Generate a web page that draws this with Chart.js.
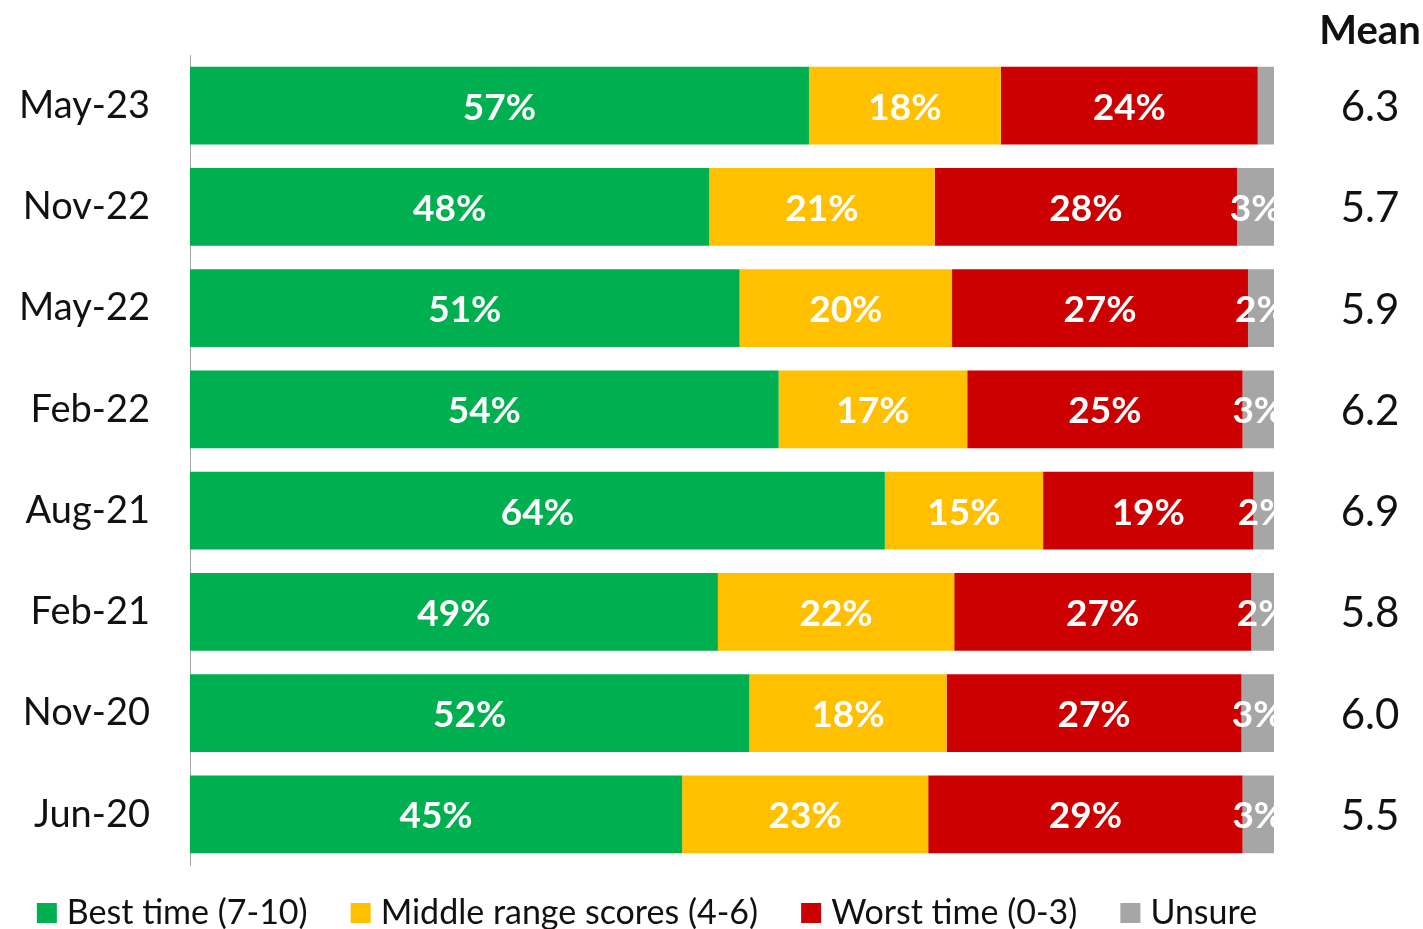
<!DOCTYPE html>
<html>
<head>
<meta charset="utf-8">
<script src="https://cdn.jsdelivr.net/npm/chart.js@4"></script>
<style>
  body { margin: 0; background: #fff; }
  canvas { display: block; }
</style>
</head>
<body>
<canvas id="scoreChart" width="1423" height="929"></canvas>
<script>
// survey waves, newest first
const categories = ['May-23', 'Nov-22', 'May-22', 'Feb-22', 'Aug-21', 'Feb-21', 'Nov-20', 'Jun-20'];

// shares in percent
const bestTime = [57.1, 47.9, 50.7, 54.3, 64.1, 48.7, 51.6, 45.4];
const middleRange = [17.7, 20.8, 19.6, 17.4, 14.6, 21.8, 18.2, 22.7];
const worstTime = [23.7, 27.9, 27.3, 25.4, 19.4, 27.4, 27.2, 29.0];
const unsure = [1.5, 3.4, 2.4, 2.9, 1.9, 2.1, 3.0, 2.9];

const meanScores = ['6.3', '5.7', '5.9', '6.2', '6.9', '5.8', '6.0', '5.5'];
const seriesNames = ['Best time (7-10)', 'Middle range scores (4-6)', 'Worst time (0-3)', 'Unsure'];
const seriesColors = ['#00B050', '#FFC000', '#CC0000', '#A6A6A6'];

const FONT = 'Lato, "Open Sans", sans-serif';
const TEXT_COLOR = '#111111';

// white % labels inside the segments, clipped to the plot area
const barLabels = {
  id: 'barLabels',
  afterDatasetsDraw(chart) {
    const ctx = chart.ctx;
    const area = chart.chartArea;
    ctx.save();
    ctx.beginPath();
    ctx.rect(area.left, area.top, area.right - area.left, area.bottom - area.top);
    ctx.clip();
    ctx.font = 'bold 37px ' + FONT;
    ctx.fillStyle = '#ffffff';
    ctx.textAlign = 'center';
    ctx.textBaseline = 'middle';
    chart.data.datasets.forEach((ds, i) => {
      const meta = chart.getDatasetMeta(i);
      meta.data.forEach((bar, j) => {
        const v = ds.data[j];
        if (v < 1.8) return;
        const cx = (bar.x + bar.base) / 2;
        ctx.fillText(Math.round(v) + '%', cx, bar.y + 2);
      });
    });
    ctx.restore();
  }
};

// "Mean" column on the right and the legend row at the bottom
const sideAndLegend = {
  id: 'sideAndLegend',
  afterDraw(chart) {
    const ctx = chart.ctx;
    const yScale = chart.scales.y;
    const colX = 1370;
    ctx.save();
    ctx.fillStyle = TEXT_COLOR;
    ctx.textAlign = 'center';
    ctx.textBaseline = 'middle';
    ctx.font = 'bold 40px ' + FONT;
    ctx.fillText('Mean', colX, 31);
    ctx.font = '42px ' + FONT;
    meanScores.forEach((m, i) => {
      ctx.fillText(m, colX, yScale.getPixelForValue(i) + 2);
    });

    // legend
    ctx.font = '34px ' + FONT;
    const box = 20, gapText = 10, gapItem = 43;
    const widths = seriesNames.map(n => box + gapText + ctx.measureText(n).width);
    const total = widths.reduce((a, b) => a + b, 0) + gapItem * (widths.length - 1);
    let x = 647 - total / 2;
    const ly = 912;
    ctx.textAlign = 'left';
    seriesNames.forEach((n, i) => {
      ctx.fillStyle = seriesColors[i];
      ctx.fillRect(x, ly - 9, box, box);
      ctx.fillStyle = TEXT_COLOR;
      ctx.fillText(n, x + box + gapText, ly + 1);
      x += widths[i] + gapItem;
    });
    ctx.restore();
  }
};

const seriesData = [bestTime, middleRange, worstTime, unsure];

new Chart(document.getElementById('scoreChart').getContext('2d'), {
  type: 'bar',
  data: {
    labels: categories,
    datasets: seriesData.map((d, i) => ({
      label: seriesNames[i],
      data: d,
      backgroundColor: seriesColors[i],
      borderWidth: 0,
      barPercentage: 0.77,
      categoryPercentage: 1.0
    }))
  },
  options: {
    indexAxis: 'y',
    responsive: false,
    animation: false,
    devicePixelRatio: 1,
    layout: {
      padding: { top: 55, right: 149, bottom: 64, left: 0 }
    },
    scales: {
      x: {
        stacked: true,
        min: 0,
        max: 100,
        display: false
      },
      y: {
        stacked: true,
        grid: { display: false, drawTicks: false },
        border: { display: true, color: '#A6A6A6', width: 1 },
        ticks: {
          color: TEXT_COLOR,
          padding: 40,
          font: { family: FONT, size: 38 }
        },
        afterFit(scale) {
          scale.width = 190;
          // don't let the tick labels push the plot area down
          scale.paddingTop = 0;
          scale.paddingBottom = 0;
        }
      }
    },
    plugins: {
      legend: { display: false },
      tooltip: { enabled: false }
    }
  },
  plugins: [barLabels, sideAndLegend]
});
</script>
</body>
</html>
